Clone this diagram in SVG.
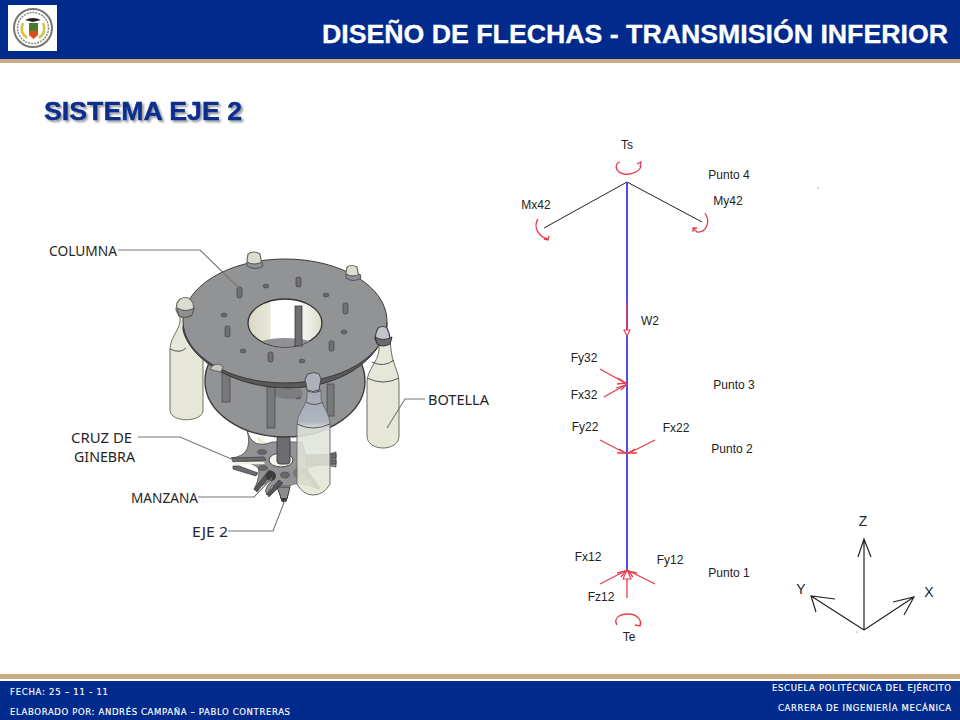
<svg xmlns="http://www.w3.org/2000/svg" width="960" height="720" viewBox="0 0 960 720">
<style>
text{font-family:"Liberation Sans",Arial,sans-serif}
.d{font-size:12px;fill:#222;text-anchor:middle;dominant-baseline:central}
.c{font-family:"Noto Sans","DejaVu Sans",sans-serif;font-size:15px;fill:#262626;font-weight:400}
.f{font-family:"DejaVu Sans",sans-serif;font-size:8.5px;fill:#fff;stroke:#fff;stroke-width:.15}
.ax{font-size:14px;fill:#222;text-anchor:middle}
.r{fill:none;stroke:#ee3a4c;stroke-width:1.3}
.tri{fill:#fff;stroke:#ee3a4c;stroke-width:1.1}
.k{fill:none;stroke:#222;stroke-width:1}
.ka{fill:none;stroke:#222;stroke-width:1.2}
.b{fill:#e6e7d9;stroke:#6e6f64;stroke-width:1}
.sh{fill:none;stroke:#55564e;stroke-width:1}
.cap{fill:#dcdcd0;stroke:#6a6a62;stroke-width:1.2}
.capb{fill:#8f9094;stroke:#55565a;stroke-width:1}
.capd{fill:#c2c4ca;stroke:#44454c;stroke-width:1.2}
.lead{fill:none;stroke:#777;stroke-width:1.1}
.col{fill:#77787a;stroke:#444;stroke-width:.7}
.hole{fill:#66676a;stroke:#444;stroke-width:.5}
.pin{fill:#6f7072;stroke:#3a3a3a;stroke-width:.6}
.arm{fill:#6b6c6e;stroke:#3a3a3a;stroke-width:.7}
</style>
<defs>
<filter id="sh" x="-5%" y="-20%" width="110%" height="150%"><feDropShadow dx="2" dy="2" stdDeviation="1.2" flood-color="#000" flood-opacity=".4"/></filter>
<linearGradient id="gl" x1="0" y1="0" x2="0" y2="1"><stop offset="0" stop-color="#a9adbc"/><stop offset=".3" stop-color="#b4b8c6"/><stop offset=".36" stop-color="#dfe3dc"/><stop offset="1" stop-color="#e4e6d4"/></linearGradient>
<linearGradient id="hl" x1="0" y1="0" x2="1" y2="0"><stop offset="0" stop-color="#d8d8c4"/><stop offset=".3" stop-color="#e8e8d8"/><stop offset=".31" stop-color="#fff"/><stop offset=".65" stop-color="#fff"/><stop offset="1" stop-color="#dcdccb"/></linearGradient>
</defs>
<rect width="960" height="720" fill="#fff"/>
<g id="header">
<rect width="960" height="59" fill="#002a8c"/>
<rect y="59" width="960" height="4" fill="#c8ad7e"/>
<rect x="8" y="5" width="49" height="46" fill="#fff"/>
<circle cx="33" cy="28" r="19" fill="#fff" stroke="#777" stroke-width="2"/>
<circle cx="33" cy="28" r="15.500" fill="#fff" stroke="#8a8a8a" stroke-width="1.500" stroke-dasharray="2 1"/>
<path d="M23 23q-4 9 4 15M43 23q4 9-4 15" fill="none" stroke="#d9c23c" stroke-width="2.500"/>
<path d="M25 20q8-4 16 0l-8 2z" fill="#222"/>
<rect x="29" y="23" width="9" height="8" fill="#4c7a28"/>
<path d="M29 31h9v4l-4.500 4-4.500-4z" fill="#d9501e"/>
<text x="948" y="43" text-anchor="end" font-size="25" font-weight="700" fill="#fff" stroke="#fff" stroke-width=".3" textLength="626" lengthAdjust="spacingAndGlyphs">DISEÑO DE FLECHAS - TRANSMISIÓN INFERIOR</text>
</g>
<text id="heading" x="44" y="120" font-size="25.500" font-weight="700" fill="#0a2f8c" stroke="#0a2f8c" stroke-width=".4" filter="url(#sh)" textLength="198" lengthAdjust="spacingAndGlyphs">SISTEMA EJE 2</text>

<g id="model">
<g id="cruz">
<path d="M257 436l14 10-11 2z" fill="#f0eed0"/>
<path d="M247 430Q252 450 272 442L302 442 306 455Q318 458 336 452L336 467Q316 462 305 470 306 480 319 489 296 480 290 486L272 486 267 495Q262 488 275 478L254 490Q263 470 256 466 244 460 231 458 254 456 247 430Z" fill="#929395" stroke="#4c4c4c" stroke-width=".8"/>
<path d="M232 458l32-1 2 3-33 2z" class="arm"/>
<path d="M234 462l30 0 1 2-30 1z" fill="#f3f2e2"/>
<path d="M233 466l6 0 19 7-2 3-23-7z" class="arm"/>
<path d="M254 489l15-19 4 2-16 20zM267 494l12-14 4 3-14 14z" fill="#55565a" stroke="#333" stroke-width=".6"/>
<path d="M306 468l14 20-3 1-15-18z" class="arm"/>
<path d="M306 455l30-1v4l-30 1zM306 461l30-1v4l-30 1z" class="arm"/>
<ellipse cx="281" cy="460" rx="12" ry="7" fill="#f4f4ea" stroke="#444"/>
<ellipse cx="262" cy="452" rx="4.500" ry="2.500" class="hole"/>
<ellipse cx="263" cy="468" rx="4.500" ry="2.500" class="hole"/>
<ellipse cx="285" cy="475" rx="4.500" ry="3" class="hole"/>
<ellipse cx="271" cy="476" rx="5" ry="5" fill="#3c3c3c"/>
<ellipse cx="298" cy="473" rx="5" ry="5" fill="#777"/>
<rect x="277" y="436" width="13" height="28" rx="3" fill="#6c6d70" stroke="#444"/>
<path d="M277 487h13l-2 8-1 4h-6l-1-4z" fill="#8b8c8e" stroke="#333"/>
<ellipse cx="284" cy="500" rx="3" ry="2" fill="#333"/>
</g>
<ellipse id="plate-lower" cx="285" cy="381" rx="80" ry="56" fill="#929395" stroke="#3d3d3d" stroke-width="1.400"/>
<ellipse cx="298" cy="397" rx="3" ry="2" class="hole"/>
<path d="M273 395q15 8 30 0l-2-6h-26z" fill="#7c7d7f"/>
<g id="bottle-left">
<path d="M170 350C170 338 178 332 180 322L180 312H190L191 340 203 352 203 410C203 423 170 423 170 410Z" class="b"/>
<path d="M170 349Q180 354 186 348" class="sh"/>
</g>
<rect x="222" y="372" width="8" height="30" class="col"/>
<rect x="267" y="386" width="8" height="42" class="col"/>
<rect x="327" y="384" width="7" height="32" class="col"/>
<path d="M183 326v4C190 360 235 388 288 388C340 388 380 360 387 326v-4Z" fill="#58595b" stroke="#333"/>
<ellipse cx="285" cy="321" rx="102" ry="62" fill="#929395" stroke="#3a3a3a" stroke-width="1"/>
<path d="M212 366q7-4 11 1l-2 5q-7-1-11-3z" fill="#c9c9bd" stroke="#444" stroke-width=".7"/>
<ellipse cx="285" cy="323" rx="37" ry="24" fill="url(#hl)" stroke="#333" stroke-width="1.300"/>
<path d="M262 341q10-3 22-3q16 0 26 3q-11 6-25 6q-13 0-23-6z" fill="#909194"/>
<rect x="295" y="306" width="7" height="40" fill="#6e6f72" stroke="#3c3c3c" stroke-width=".8"/>
<rect x="237" y="287" width="5" height="11" rx="2" class="pin"/>
<rect x="296" y="277" width="5" height="10" rx="2" class="pin"/>
<rect x="343" y="303" width="5" height="11" rx="2" class="pin"/>
<rect x="225" y="326" width="5" height="11" rx="2" class="pin"/>
<rect x="329" y="341" width="5" height="10" rx="2" class="pin"/>
<rect x="268" y="352" width="5" height="10" rx="2" class="pin"/>
<ellipse cx="266" cy="286" rx="3" ry="2" class="hole"/>
<ellipse cx="326" cy="295" rx="3" ry="2" class="hole"/>
<ellipse cx="224" cy="315" rx="3" ry="2" class="hole"/>
<ellipse cx="344" cy="332" rx="3" ry="2" class="hole"/>
<ellipse cx="243" cy="351" rx="3" ry="2" class="hole"/>
<ellipse cx="302" cy="361" rx="3" ry="2" class="hole"/>
<g id="cap-back-a"><path d="M248 266l-1-6 1-6q6-4 12 0l1 6 1 5q-7 5-14 1z" class="cap"/><path d="M247 262q7 4 15 0l1 4q-8 5-16 0z" class="capb"/></g>
<g id="cap-back-b"><path d="M347 278l-1-5 1-6q5-3 10 0l1 6 1 4q-6 4-12 1z" class="cap"/><path d="M346 274q7 4 14 0l1 4q-8 5-15 0z" class="capb"/></g>
<g id="cap-left"><path d="M179 316l-3-6 1-7 3-4q6-3 10 0l3 4 1 6-3 7q-6 3-12 0z" class="cap"/><path d="M177 308q9 5 17 0l-2 7q-7 4-13 1z" class="capb"/></g>
<g id="bottle-right">
<path d="M367 382C367 370 378 362 379 350L379 342H390L392 356C394 366 399 372 399 384L399 436C399 452 367 452 367 436Z" class="b"/>
<path d="M367 378Q383 386 399 378M372 362Q384 368 394 360" class="sh"/>
<path d="M378 344l-3-5 1-6 2-5q5-3 9 0l2 5 1 6-3 5q-5 3-9 0z" class="capd"/>
<path d="M375 337q8 5 17 0l-2 7q-7 4-13 0z" fill="#6a6b70" stroke="#333"/>
</g>
<g id="bottle-front">
<path d="M297 425C297 414 305 408 307 398L307 390H321L321 398C323 408 330 414 330 425L330 484Q324 495 313 495Q303 495 297 484Z" fill="url(#gl)" fill-opacity=".88" stroke="#6c6e72" stroke-width="1"/>
<path d="M297 424Q313 432 330 424" class="sh"/>
<path d="M307 391Q314 394 321 391M306 402Q314 407 323 402" class="sh"/>
<path d="M307 390l-1-6-1-5 3-5q6-3 11 0l2 5-1 5-1 6q-6 3-12 0z" fill="#aeb1bc" stroke="#4a4c54"/>
</g>
<polyline class="lead" points="118,250 200,250 241,290"/>
<polyline class="lead" points="425,399 405,399 387,428"/>
<polyline class="lead" points="138,437 180,437 236,461"/>
<polyline class="lead" points="198,497 254,497 272,478"/>
<polyline class="lead" points="228,531 273,531 285,500"/>
</g>
<g id="label-columna"><text class="c" x="49" y="256" textLength="68" lengthAdjust="spacingAndGlyphs">COLUMNA</text></g>
<g id="label-botella"><text class="c" x="428" y="405" textLength="61" lengthAdjust="spacingAndGlyphs">BOTELLA</text></g>
<g id="label-cruz"><text class="c" x="71" y="443" textLength="61" lengthAdjust="spacingAndGlyphs">CRUZ DE</text><text class="c" x="74" y="462" textLength="61" lengthAdjust="spacingAndGlyphs">GINEBRA</text></g>
<g id="label-manzana"><text class="c" x="131" y="503" textLength="67" lengthAdjust="spacingAndGlyphs">MANZANA</text></g>
<g id="label-eje"><text class="c" x="192" y="537" textLength="36" lengthAdjust="spacingAndGlyphs">EJE 2</text></g>

<g id="connectors">
<path d="M627 183V570" stroke="#3c3ce6" stroke-width="1.800" fill="none"/>
<path d="M544 228L627 182L702 222" class="k"/>
<path class="r" d="M627 303V331" stroke-width="1.600"/>
<path class="tri" d="M624 330h6l-3 6z"/>
<path class="r" d="M600 369L627 384M604 397L627 384"/>
<path class="r" d="M618 378l8 5-9 1M616 388l10-3-5 5"/>
<path class="r" d="M600 440L627 454M655 440L627 454"/>
<path class="r" d="M619 449l7 4-9 0M635 449l-7 4 9 0"/>
<path class="r" d="M600 584L627 570M655 584L627 570M627 598V575"/>
<path class="r" d="M617 573l9-2-5 6M637 573l-9-2 5 6"/>
<path class="tri" d="M627 570l4 9h-8z"/>
<path class="r" d="M641 166C640 172 630 175 624 174C615 172 614 164 620 162M637 164l4-2-1 5"/>
<path class="r" d="M538 219C533 226 538 237 548 239M544 239l4 1 1-4"/>
<path class="r" d="M705 213C711 222 706 233 697 232L693 228M693 232l0-4 4 0"/>
<path class="r" d="M617 625C613 618 620 614 628 614C636 614 642 619 640 625M635 625l5 1 1-4"/>
</g>
<g id="axes">
<path class="ka" d="M864 630V539M858 557L864 539L871 557M864 630L914 597M893 602L914 597L904 615M864 630L811 596M835 599L811 596L816 612"/>
<text class="ax" x="863" y="526">Z</text>
<text class="ax" x="929" y="597">X</text>
<text class="ax" x="801" y="594">Y</text>
<circle cx="857" cy="632" r=".6" fill="#555"/>
<circle cx="818" cy="188" r=".6" fill="#d33"/>
</g>
<g id="labels">
<text class="d" x="627" y="145">Ts</text>
<text class="d" x="729" y="175">Punto 4</text>
<text class="d" x="536" y="205">Mx42</text>
<text class="d" x="728" y="201">My42</text>
<text class="d" x="650" y="321">W2</text>
<text class="d" x="584" y="358">Fy32</text>
<text class="d" x="584" y="395">Fx32</text>
<text class="d" x="734" y="385">Punto 3</text>
<text class="d" x="585" y="427">Fy22</text>
<text class="d" x="676" y="428">Fx22</text>
<text class="d" x="732" y="449">Punto 2</text>
<text class="d" x="588" y="557">Fx12</text>
<text class="d" x="670" y="560">Fy12</text>
<text class="d" x="729" y="573">Punto 1</text>
<text class="d" x="601" y="597">Fz12</text>
<text class="d" x="629" y="637">Te</text>
</g>
<g id="footer">
<rect y="674" width="960" height="5" fill="#c8ad7e"/>
<rect y="681" width="960" height="39" fill="#002a8c"/>
<text class="f" x="10" y="695" textLength="98" lengthAdjust="spacing">FECHA: 25 – 11 - 11</text>
<text class="f" x="10" y="715" textLength="280" lengthAdjust="spacing">ELABORADO  POR: ANDRÉS CAMPAÑA – PABLO CONTRERAS</text>
<text class="f" x="772" y="691" textLength="179" lengthAdjust="spacing">ESCUELA POLITÉCNICA  DEL EJÉRCITO</text>
<text class="f" x="778" y="711" textLength="173" lengthAdjust="spacing">CARRERA  DE INGENIERÍA  MECÁNICA</text>
</g>
</svg>
